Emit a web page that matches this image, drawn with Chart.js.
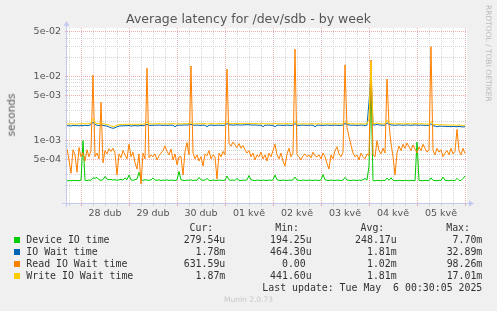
<!DOCTYPE html>
<html><head><meta charset="utf-8">
<script src="https://cdn.jsdelivr.net/npm/chart.js@4/dist/chart.umd.min.js"></script>
<style>
html,body{margin:0;padding:0;background:#f0f0f0;width:497px;height:311px;overflow:hidden;}
#wrap{position:relative;width:497px;height:311px;}
canvas{position:absolute;left:0;top:0;}
.t{position:absolute;white-space:pre;font-family:"DejaVu Sans";color:#555;line-height:1;}
.m{position:absolute;white-space:pre;font-family:"DejaVu Sans Mono";font-size:9.9px;color:#333;line-height:12px;height:12px;}
.sq{position:absolute;width:6px;height:6px;}
</style></head><body>
<div id="wrap">
<canvas id="c" width="497" height="311"></canvas>
<div class="t" style="left:0;width:497px;text-align:center;top:13px;font-size:12.5px;">Average latency for /dev/sdb - by week</div>
<div class="t" style="left:11px;top:115px;font-size:10.5px;transform:translate(-50%,-50%) rotate(-90deg);">seconds</div>
<div class="t" style="left:492px;top:5px;font-size:7.5px;color:#bbb;transform-origin:0 0;transform:rotate(90deg);">RRDTOOL / TOBI OETIKER</div>
<div id="legend"></div>
<div class="t" style="left:0;width:497px;text-align:center;top:296px;font-size:7.5px;color:#c8c8c8;">Munin 2.0.73</div>
</div>
<script>
// ---- data (microseconds), one value per hour, 200 hours ----
const deviceIO = [
235,238,236,240,237,239,236,241,1000,240,
238,242,240,262,258,266,244,240,246,276,
250,244,248,242,246,240,244,248,242,262,
245,290,244,240,246,250,320,244,240,246,
242,240,244,262,242,240,244,238,242,240,
244,238,242,240,238,244,330,244,240,238,
242,240,244,238,242,240,266,244,240,242,
256,240,238,242,240,238,242,240,238,242,
280,244,240,242,240,256,240,238,242,240,
244,285,244,240,238,242,240,238,242,240,
238,242,240,244,290,244,240,238,242,240,
238,242,240,244,270,242,240,238,242,240,
238,242,240,238,242,240,238,244,295,244,
240,238,242,240,238,242,240,238,242,266,
242,240,238,242,240,238,242,240,244,256,
242,400,7700,238,236,240,238,236,240,238,
260,240,262,240,238,236,240,238,236,240,
238,236,240,238,236,950,240,238,236,240,
238,236,262,240,238,236,240,238,270,240,
238,236,240,238,236,258,240,238,256,280];
const ioWait = [
1720,1710,1700,1730,1710,1720,1700,1730,1710,1740,
1720,1730,1790,1950,1790,1740,1720,1760,1730,1710,
1690,1640,1590,1560,1590,1650,1690,1710,1700,1720,
1710,1730,1690,1710,1720,1700,1710,1730,1710,1750,
1800,1740,1730,1740,1750,1740,1750,1740,1730,1750,
1730,1740,1750,1740,1650,1740,1750,1740,1750,1760,
1750,1770,1800,1750,1740,1750,1740,1730,1750,1740,
1650,1740,1750,1740,1730,1740,1750,1740,1730,1750,
1850,1770,1760,1750,1760,1770,1760,1750,1760,1770,
1780,1770,1760,1750,1760,1750,1740,1750,1650,1750,
1740,1750,1740,1730,1650,1740,1750,1740,1730,1740,
1750,1740,1730,1750,1850,1740,1730,1740,1750,1740,
1730,1740,1750,1740,1650,1740,1750,1740,1730,1740,
1750,1740,1730,1740,1750,1740,1730,1740,1750,1850,
1800,1760,1740,1750,1740,1730,1740,1750,1740,1730,
1740,4000,12000,1760,1750,1800,1760,1750,1740,1750,
1900,1800,1760,1750,1740,1750,1760,1750,1740,1750,
1760,1750,1740,1750,1760,1750,1740,1750,1740,1730,
1740,1730,1850,1710,1690,1650,1680,1690,1670,1680,
1660,1670,1650,1670,1660,1650,1670,1650,1640,1650];
const readWait = [
740,500,310,720,600,320,780,560,650,480,
720,560,700,10600,560,640,520,4000,450,700,
620,750,680,760,640,290,620,540,700,600,
520,880,560,660,450,360,620,210,640,520,
13600,540,600,560,620,500,580,640,700,830,
680,600,740,500,620,420,560,560,290,680,
930,600,14700,640,520,600,480,560,400,620,
580,700,520,600,560,250,640,560,680,600,
13200,900,820,950,860,780,900,760,840,720,
640,700,560,640,500,600,560,660,520,600,
480,640,560,700,880,600,520,640,480,400,
620,760,560,640,27000,600,560,500,580,620,
560,600,540,660,580,560,600,520,640,560,
440,360,600,520,700,800,620,560,660,15300,
1600,1150,850,640,560,600,500,640,560,520,
620,580,18200,600,560,1000,700,620,760,640,
9200,1800,900,560,290,640,820,700,880,760,
920,800,700,860,740,640,800,700,880,760,
660,720,29500,700,600,760,660,720,560,640,
700,600,760,620,680,1500,700,600,760,630];
const writeWait = [
1830,1820,1840,1830,1810,1820,1840,1830,1850,1840,
1830,1850,1900,2200,1900,1850,1840,1900,1830,1820,
1800,1760,1700,1660,1680,1740,1780,1800,1790,1810,
1800,1820,1790,1800,1810,1790,1800,1820,1800,1850,
1950,1840,1830,1820,1840,1830,1850,1840,1830,1840,
1820,1830,1840,1850,1830,1820,1840,1830,1840,1850,
1840,1860,1900,1840,1830,1850,1840,1830,1850,1840,
1830,1840,1850,1840,1830,1840,1850,1840,1860,1860,
2000,1860,1850,1840,1850,1860,1850,1840,1850,1860,
1870,1860,1850,1840,1850,1840,1830,1840,1850,1840,
1830,1840,1830,1840,1850,1840,1830,1840,1830,1840,
1850,1840,1830,1840,2000,1830,1820,1830,1840,1830,
1820,1830,1840,1830,1820,1830,1840,1830,1820,1830,
1840,1830,1820,1830,1840,1830,1820,1830,1840,2000,
1900,1850,1830,1840,1830,1820,1830,1840,1830,1820,
1830,2200,17000,1850,1840,1900,1850,1840,1830,1840,
2100,1900,1850,1840,1830,1840,1850,1840,1830,1840,
1850,1840,1830,1840,1850,1840,1830,1840,1830,1820,
1830,1820,2000,1800,1780,1790,1770,1780,1760,1770,
1750,1760,1740,1760,1750,1740,1760,1740,1730,1740];

const seriesNames = ['Device IO time','IO Wait time','Read IO Wait time','Write IO Wait time'];
const seriesColors = ['#00cc00','#0066b3','#ff8000','#ffcc00'];
const curVals = ['279.54u','1.78m','631.59u','1.87m'];
const minVals = ['194.25u','464.30u','0.00 ','441.60u'];
const avgVals = ['248.17u','1.81m','1.02m','1.81m'];
const maxVals = ['7.70m','32.89m','98.26m','17.01m'];

// ---- axis ticks ----
const xGridHours = [1,7,13,19,25,31,37,43,49,55,61,67,73,79,85,91,97,103,109,115,121,127,133,139,145,151,157,163,169,175,181,187,193,199];
const dayStartHours = [7,31,55,79,103,127,151,175,199];
const xLabelHours = [19,43,67,91,115,139,163,187];
const xLabels = ['28 dub','29 dub','30 dub','01 kvě','02 kvě','03 kvě','04 kvě','05 kvě'];
const yGridValues = [2e-4,3e-4,4e-4,5e-4,6e-4,7e-4,8e-4,9e-4,1e-3,2e-3,3e-3,4e-3,5e-3,6e-3,7e-3,8e-3,9e-3,1e-2,2e-2,3e-2,4e-2,5e-2];
const yLabelValues = [5e-4,1e-3,5e-3,1e-2,5e-2];
const yLabels = ['5e-04','1e-03','5e-03','1e-02','5e-02'];
const yMin = 1.06e-4, yMax = 5.77e-2;

const MAJOR = 'rgba(225,140,140,0.7)';
const MINOR = 'rgba(200,200,200,0.75)';
const AXIS = '#c4c9ee';

// ---- legend (HTML text) ----
const leg = document.getElementById('legend');
function addText(cls, txt, style){ const d=document.createElement('div'); d.className=cls; d.textContent=txt; d.setAttribute('style',style); leg.appendChild(d); }
const colRights = [225.3, 311.7, 396.7, 482.3];
const headRights = [213.3, 299, 384.3, 470];
['Cur:','Min:','Avg:','Max:'].forEach((h,k)=>addText('m',h,`right:${497-headRights[k]}px;top:${222}px;text-align:right;`));
seriesNames.forEach((n,i)=>{
  const cy = 240 + 12*i;
  const sq=document.createElement('div'); sq.className='sq'; sq.style.left='14px'; sq.style.top=(cy-3)+'px'; sq.style.background=seriesColors[i]; leg.appendChild(sq);
  addText('m', n, `left:26.3px;top:${cy-6}px;`);
  [curVals,minVals,avgVals,maxVals].forEach((arr,k)=>addText('m', arr[i], `right:${497-colRights[k]}px;top:${cy-6}px;text-align:right;`));
});
addText('m','Last update: Tue May  6 00:30:05 2025',`right:${497-482.3}px;top:${288-6}px;text-align:right;`);

// ---- chart ----
const toPts = arr => arr.map((v,i)=>({x:i, y:v/1e6}));
const isIn = (v, list) => list.some(m => Math.abs(v/m-1) < 1e-6);

const deco = {
  id:'deco',
  beforeDraw(chart){
    const {ctx, chartArea:a} = chart;
    ctx.save(); ctx.fillStyle='#ffffff'; ctx.fillRect(a.left, a.top, a.right-a.left, a.bottom-a.top); ctx.restore();
  },
  afterDraw(chart){
    const {ctx, chartArea:a} = chart;
    ctx.save();
    ctx.strokeStyle = AXIS; ctx.fillStyle = AXIS; ctx.lineWidth = 1;
    ctx.beginPath();
    ctx.moveTo(a.left-0.5, a.bottom+4); ctx.lineTo(a.left-0.5, a.top-3);
    ctx.moveTo(a.left-5, a.bottom+0.5); ctx.lineTo(a.right+2, a.bottom+0.5);
    ctx.stroke();
    ctx.beginPath();
    ctx.moveTo(a.left-3.5, a.top-2); ctx.lineTo(a.left+2.5, a.top-2); ctx.lineTo(a.left-0.5, a.top-7); ctx.closePath(); ctx.fill();
    ctx.beginPath();
    ctx.moveTo(a.right+2, a.bottom-2.5); ctx.lineTo(a.right+2, a.bottom+3.5); ctx.lineTo(a.right+7, a.bottom+0.5); ctx.closePath(); ctx.fill();
    ctx.restore();
  }
};

const mk = (label, data, color, order) => ({label, data: toPts(data), borderColor: color, backgroundColor: color, borderWidth: 1, pointRadius: 0, tension: 0, fill: false, order});

new Chart(document.getElementById('c'), {
  type:'line',
  data:{ datasets:[
    mk(seriesNames[0], deviceIO, seriesColors[0], 4),
    mk(seriesNames[1], ioWait, seriesColors[1], 3),
    mk(seriesNames[2], readWait, seriesColors[2], 2),
    mk(seriesNames[3], writeWait, seriesColors[3], 1)
  ]},
  options:{
    responsive:false, animation:false, devicePixelRatio:1,
    layout:{padding:{left:0, top:28, right:30, bottom:88}},
    plugins:{legend:{display:false}, tooltip:{enabled:false}, title:{display:false}},
    scales:{
      x:{
        type:'linear', min:0, max:200,
        afterBuildTicks: s => { s.ticks = xGridHours.map(v=>({value:v})); },
        afterFit: s => { s.height = 20; s.paddingLeft = 0; s.paddingRight = 0; },
        ticks:{autoSkip:false, maxRotation:0, minRotation:0, padding:2, color:'#555',
          font:{family:'DejaVu Sans', size:9.5},
          callback: v => { const k = xLabelHours.indexOf(v); return k>=0 ? xLabels[k] : ''; }},
        grid:{
          color: c => (c.tick && dayStartHours.includes(c.tick.value)) ? MAJOR : MINOR,
          tickColor: c => (c.tick && dayStartHours.includes(c.tick.value)) ? MAJOR : MINOR,
          lineWidth:1, drawTicks:true, tickLength:3
        },
        border:{display:false, dash:[1,1]}
      },
      y:{
        type:'logarithmic', min:yMin, max:yMax,
        afterBuildTicks: s => { s.ticks = yGridValues.map(v=>({value:v})); },
        afterFit: s => { s.width = 67; s.paddingTop = 0; s.paddingBottom = 0; },
        ticks:{autoSkip:false, padding:4, color:'#555', font:{family:'DejaVu Sans', size:9.5},
          callback: v => { const k = yLabelValues.findIndex(m => Math.abs(v/m-1)<1e-6); return k>=0 ? yLabels[k] : ''; }},
        grid:{
          color: c => (c.tick && isIn(c.tick.value, yLabelValues)) ? MAJOR : MINOR,
          tickColor: c => (c.tick && isIn(c.tick.value, yLabelValues)) ? MAJOR : MINOR,
          lineWidth:1, drawTicks:true, tickLength:2
        },
        border:{display:false, dash:[1,1]}
      }
    }
  },
  plugins:[deco]
});
</script>
</body></html>
